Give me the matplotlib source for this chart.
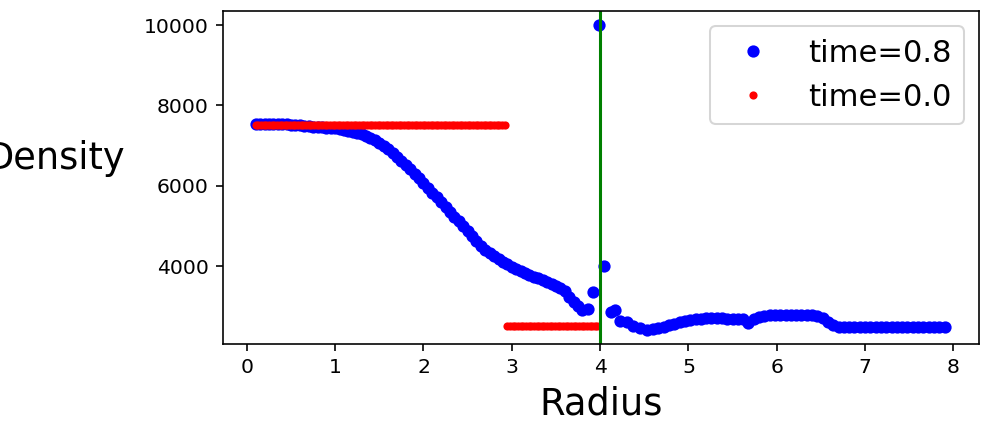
import matplotlib
matplotlib.use("Agg")
import matplotlib.pyplot as plt

# ---- data ----
blue_x = [0.10, 0.15, 0.20, 0.25, 0.30, 0.35, 0.40, 0.45, 0.50, 0.55,
          0.60, 0.65, 0.70, 0.75, 0.80, 0.85, 0.90, 0.95, 1.00, 1.05,
          1.10, 1.15, 1.20, 1.25, 1.30, 1.35, 1.40, 1.45, 1.50, 1.55,
          1.60, 1.65, 1.70, 1.75, 1.80, 1.85, 1.90, 1.95, 2.00, 2.05,
          2.10, 2.15, 2.20, 2.25, 2.30, 2.35, 2.40, 2.45, 2.50, 2.55,
          2.60, 2.65, 2.70, 2.75, 2.80, 2.85, 2.90, 2.95, 3.00, 3.05,
          3.10, 3.15, 3.20, 3.25, 3.30, 3.35, 3.40, 3.45, 3.50, 3.55,
          3.60, 3.65, 3.70, 3.75, 3.80,
          3.865, 3.915, 3.99, 4.047, 4.12, 4.17, 4.23, 4.30, 4.375, 4.45, 4.53,
          4.60, 4.66, 4.72, 4.78, 4.84, 4.90, 4.96, 5.02, 5.08, 5.14,
          5.20, 5.26, 5.32, 5.38, 5.44, 5.50, 5.56, 5.62, 5.68, 5.74,
          5.80, 5.86, 5.92, 5.98, 6.04, 6.10, 6.16, 6.22, 6.28, 6.34,
          6.40, 6.46, 6.52, 6.58, 6.64, 6.70, 6.76, 6.82, 6.88, 6.94,
          7.00, 7.06, 7.12, 7.18, 7.24, 7.30, 7.36, 7.42, 7.48, 7.54,
          7.60, 7.66, 7.72, 7.78, 7.84, 7.90]
blue_y = [7530, 7530, 7530, 7530, 7530, 7530, 7530, 7525, 7520, 7510,
          7500, 7490, 7475, 7465, 7458, 7450, 7443, 7435, 7425, 7410,
          7395, 7375, 7350, 7320, 7285, 7245, 7200, 7140, 7075, 6995,
          6905, 6810, 6710, 6610, 6510, 6410, 6300, 6190, 6070, 5950,
          5830, 5710, 5590, 5470, 5350, 5230, 5110, 4990, 4870, 4750,
          4620, 4500, 4400, 4320, 4240, 4170, 4100, 4040, 3980, 3930,
          3880, 3830, 3780, 3740, 3700, 3650, 3600, 3550, 3500, 3450,
          3390, 3230, 3110, 3000, 2910,
          2940, 3360, 10000, 4000, 2860, 2900, 2625, 2610, 2500, 2470, 2420,
          2440, 2460, 2490, 2525, 2560, 2600, 2630, 2650, 2670, 2685,
          2700, 2705, 2700, 2695, 2690, 2690, 2685, 2670, 2585, 2680,
          2730, 2755, 2770, 2775, 2780, 2780, 2780, 2780, 2780, 2775,
          2775, 2760, 2700, 2620, 2540, 2495, 2480, 2480, 2480, 2480,
          2480, 2480, 2480, 2480, 2480, 2480, 2480, 2480, 2480, 2480,
          2480, 2480, 2480, 2480, 2480, 2480]

red_x_inner = [0.10, 0.13, 0.16, 0.19, 0.22, 0.25, 0.28, 0.31, 0.34, 0.37,
               0.40, 0.43, 0.46, 0.49, 0.52, 0.55, 0.58, 0.61, 0.64, 0.67,
               0.70, 0.73, 0.76, 0.79, 0.82, 0.85, 0.88, 0.91, 0.94, 0.97,
               1.00, 1.03, 1.06, 1.09, 1.12, 1.15, 1.18, 1.21, 1.24, 1.27,
               1.30, 1.33, 1.36, 1.39, 1.42, 1.45, 1.48, 1.51, 1.54, 1.57,
               1.60, 1.63, 1.66, 1.69, 1.72, 1.75, 1.78, 1.81, 1.84, 1.87,
               1.90, 1.93, 1.96, 1.99, 2.02, 2.05, 2.08, 2.11, 2.14, 2.17,
               2.20, 2.23, 2.26, 2.29, 2.32, 2.35, 2.38, 2.41, 2.44, 2.47,
               2.50, 2.53, 2.56, 2.59, 2.62, 2.65, 2.68, 2.71, 2.74, 2.77,
               2.80, 2.83, 2.86, 2.89, 2.92]
red_x_outer = [2.95, 2.98, 3.01, 3.04, 3.07, 3.10, 3.13, 3.16, 3.19, 3.22,
               3.25, 3.28, 3.31, 3.34, 3.37, 3.40, 3.43, 3.46, 3.49, 3.52,
               3.55, 3.58, 3.61, 3.64, 3.67, 3.70, 3.73, 3.76, 3.79, 3.82,
               3.85, 3.88, 3.91, 3.94, 3.97]
red_inner_value = 7500
red_outer_value = 2500
red_x = red_x_inner + red_x_outer
red_y = [red_inner_value] * len(red_x_inner) + [red_outer_value] * len(red_x_outer)

shock_x = 4.0
blue_label = "time=0.8"
red_label = "time=0.0"
x_ticks = [0, 1, 2, 3, 4, 5, 6, 7, 8]
y_ticks = [4000, 6000, 8000, 10000]

# ---- figure ----
DPI = 147
fig = plt.figure(figsize=(994 / DPI, 438 / DPI), dpi=DPI)
ax = fig.add_axes([223 / 994, 1 - 344 / 438, (979 - 223) / 994, (344 - 11) / 438])

ax.plot(blue_x, blue_y, "bo", markersize=5, label=blue_label)
ax.plot(red_x, red_y, "r.", label=red_label)
ax.axvline(shock_x, color="g")

ax.set_xlim(-0.27, 8.29)
ax.set_ylim(2060, 10350)
ax.set_xticks(x_ticks)
ax.set_yticks(y_ticks)
ax.tick_params(labelsize=10)

ax.set_xlabel("Radius", fontsize=18)
ax.set_ylabel("Density", fontsize=18, rotation=0, ha="right", va="center")
ax.yaxis.set_label_coords(-0.1296, 0.557)

ax.legend(loc="upper right", fontsize=15)

fig.savefig("out.png", dpi=DPI)
